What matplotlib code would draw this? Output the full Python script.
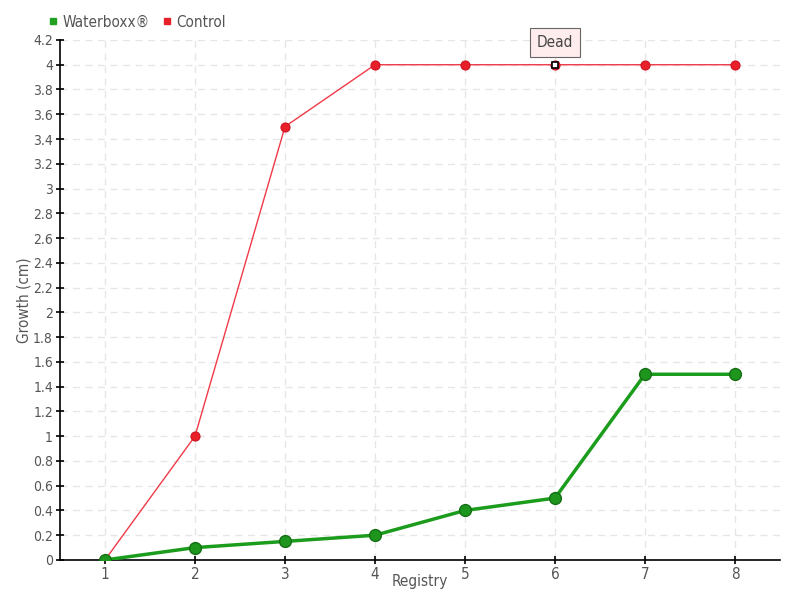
import matplotlib
matplotlib.use('Agg')
import matplotlib.pyplot as plt
from matplotlib.lines import Line2D
from matplotlib.ticker import FuncFormatter

plt.rcParams.update({
    'font.family': 'DejaVu Sans', 'font.stretch': 'condensed', 'font.size': 10,
    'text.color': '#555555', 'xtick.color': '#555555', 'ytick.color': '#555555',
})

registry = [1, 2, 3, 4, 5, 6, 7, 8]
waterboxx = [0, 0.1, 0.15, 0.2, 0.4, 0.5, 1.5, 1.5]
control = [0, 1, 3.5, 4, 4, 4, 4, 4]
y_ticks = [round(0.2 * i, 1) for i in range(22)]
dead_idx = 5

fig = plt.figure(figsize=(8, 6), dpi=100)
ax = fig.add_axes([0.075, 0.0667, 0.9, 0.8667])

ax.plot(registry, control, color='#f03a48', lw=1, zorder=3)
ax.plot(registry, control, 'o', ms=6.5, color='#e8202a', mec='#d01020', mew=0.8, zorder=4)
ax.plot(registry, waterboxx, color='#1c9c1c', lw=2.5, zorder=5)
ax.plot(registry, waterboxx, 'o', ms=8.5, color='#1e961e', mec='#146e14', mew=1, zorder=6)

# dead marker
ax.plot(registry[dead_idx], control[dead_idx], 's', ms=5, mfc='white', mec='black', mew=1.2, zorder=7)
ax.annotate('Dead', xy=(registry[dead_idx], control[dead_idx]), xytext=(0, 16),
            textcoords='offset points', ha='center', va='center', fontsize=11,
            color='#444444',
            bbox=dict(boxstyle='square,pad=0.45', fc='#ffecec', ec='#666666', lw=0.8),
            zorder=8)

ax.set_xlim(0.5, 8.5)
ax.set_ylim(0, 4.2)
ax.set_xticks(registry)
ax.set_yticks(y_ticks)
ax.yaxis.set_major_formatter(FuncFormatter(lambda v, p: f'{v:g}'))
ax.grid(True, ls=(0, (5, 4)), color='#e6e6e6', lw=1)
ax.set_axisbelow(True)
for s in ['top', 'right']:
    ax.spines[s].set_visible(False)
ax.spines['left'].set_linewidth(1.2)
ax.spines['bottom'].set_linewidth(1.2)
ax.tick_params(axis='y', direction='inout', length=6, width=1.2, color='black', labelsize=10, pad=2)
ax.tick_params(axis='x', direction='inout', length=6, width=1.2, color='black', labelsize=11, pad=2)

ax.set_xlabel('Registry', fontsize=11, color='#555555')
ax.set_ylabel('Growth (cm)', fontsize=11, color='#555555')
ax.xaxis.set_label_coords(0.5, -0.027)
ax.yaxis.set_label_coords(-0.04, 0.5)

handles = [
    Line2D([], [], marker='s', ls='none', ms=5, color='#22a022', label='Waterboxx®'),
    Line2D([], [], marker='s', ls='none', ms=5, color='#e8202a', label='Control'),
]
fig.legend(handles=handles, loc='center left', bbox_to_anchor=(0.061, 0.963), ncol=2,
           frameon=False, fontsize=11, handlelength=0.6, handletextpad=0.3,
           columnspacing=0.8, borderaxespad=0, borderpad=0)

fig.savefig('out.png', dpi=100)
